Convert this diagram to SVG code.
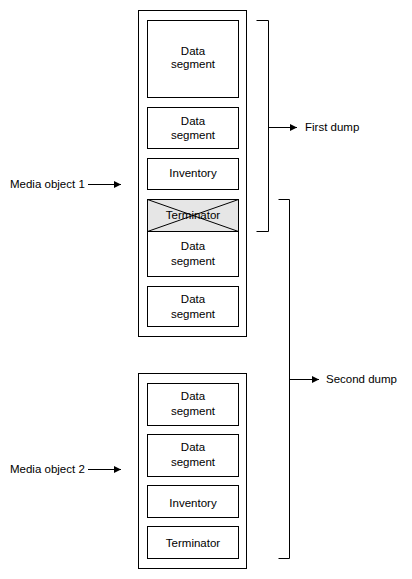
<svg xmlns="http://www.w3.org/2000/svg" width="412" height="579" viewBox="0 0 412 579">
<defs>
<marker id="ah" markerUnits="userSpaceOnUse" markerWidth="8" markerHeight="8" refX="7" refY="4" orient="auto">
<path d="M0,0.5 L7,4 L0,7.5 Z" fill="#000"/>
</marker>
<style>
rect{fill:#fff;stroke:#000;stroke-width:1}
.term{fill:#e6e6e6}
text{font-family:"Liberation Sans",Arial,sans-serif;font-size:11.5px;fill:#000}
.c{text-anchor:middle}
.ln{fill:none;stroke:#000;stroke-width:1}
</style>
</defs>
<rect fill="#fff" style="stroke:none" x="0" y="0" width="412" height="579"/>
<g id="media1">
<rect x="138.5" y="10.5" width="108" height="326"/>
<g id="m1-ds1"><rect x="147.5" y="20.5" width="91" height="77"/><text class="c" x="193" y="55">Data</text><text class="c" x="193" y="68">segment</text></g>
<g id="m1-ds2"><rect x="147.5" y="107.5" width="91" height="41"/><text class="c" x="193" y="125">Data</text><text class="c" x="193" y="139">segment</text></g>
<g id="m1-inv"><rect x="147.5" y="158.5" width="91" height="31"/><text class="c" x="193" y="177">Inventory</text></g>
<g id="m1-term"><rect class="term" x="147.5" y="199.5" width="91" height="32"/><text class="c" x="193" y="219">Terminator</text><path class="ln" d="M147.5,199.5 L238.5,231.5 M238.5,199.5 L147.5,231.5"/></g>
<g id="m1-ds3"><rect x="147.5" y="231.5" width="91" height="45"/><text class="c" x="193" y="250">Data</text><text class="c" x="193" y="265">segment</text></g>
<g id="m1-ds4"><rect x="147.5" y="286.5" width="91" height="40"/><text class="c" x="193" y="303">Data</text><text class="c" x="193" y="318">segment</text></g>
</g>
<g id="media2">
<rect x="138.5" y="373.5" width="108" height="195"/>
<g id="m2-ds1"><rect x="147.5" y="383.5" width="91" height="42"/><text class="c" x="193" y="400">Data</text><text class="c" x="193" y="415">segment</text></g>
<g id="m2-ds2"><rect x="147.5" y="434.5" width="91" height="42"/><text class="c" x="193" y="451">Data</text><text class="c" x="193" y="466">segment</text></g>
<g id="m2-inv"><rect x="147.5" y="485.5" width="91" height="32"/><text class="c" x="193" y="507">Inventory</text></g>
<g id="m2-term"><rect x="147.5" y="526.5" width="91" height="32"/><text class="c" x="193" y="547">Terminator</text></g>
</g>
<g id="label-media1"><text x="10" y="188">Media object 1</text></g>
<g id="label-media2"><text x="10" y="473">Media object 2</text></g>
<g id="label-first"><text x="305" y="131">First dump</text></g>
<g id="label-second"><text x="326" y="383">Second dump</text></g>
<g id="connectors">
<path class="ln" d="M256.5,20.5 H268.5 V231.5 H256.5"/>
<path class="ln" d="M278.5,199.5 H289.5 V558.5 H278.5"/>
<path class="ln" d="M268.5,127.5 H297" marker-end="url(#ah)"/>
<path class="ln" d="M289.5,379.5 H319" marker-end="url(#ah)"/>
<path class="ln" d="M88,184.5 H121" marker-end="url(#ah)"/>
<path class="ln" d="M88,469.5 H121" marker-end="url(#ah)"/>
</g>
</svg>
